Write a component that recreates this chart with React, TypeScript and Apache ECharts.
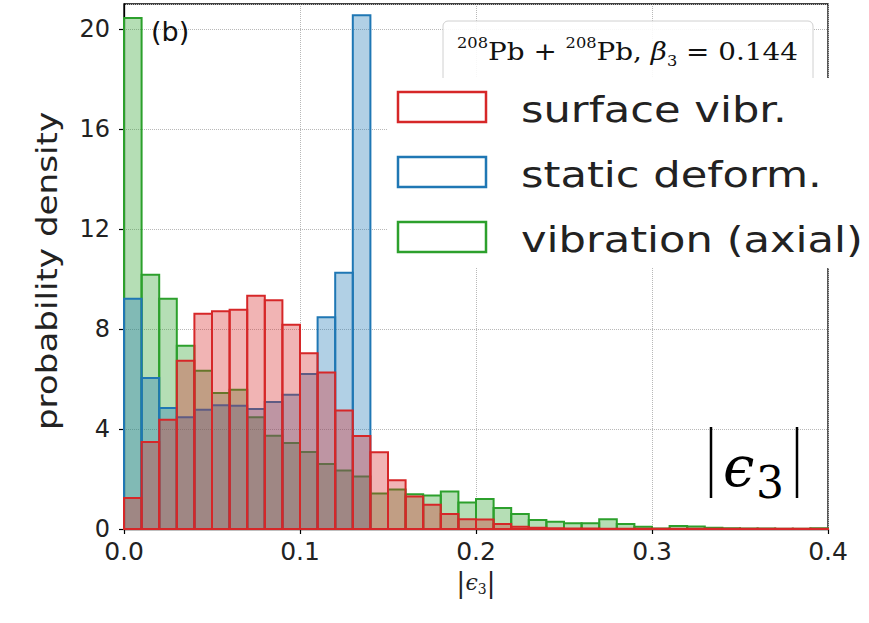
import React, { useEffect, useRef } from "react";
import * as echarts from "echarts";

// ---- data (probability density per bin, bin width 0.01 from 0.0 to 0.4) ----
const BIN_WIDTH = 0.01;
const surfaceVibr = [
  1.24, 3.48, 4.37, 6.73, 8.61, 8.71, 8.77, 9.33, 9.15, 8.17,
  7.03, 6.26, 4.74, 3.72, 3.07, 1.95, 1.3, 0.97, 0.6, 0.39,
  0.38, 0.2, 0.09, 0.05, 0.03, 0.02, 0.02, 0.01, 0.01, 0.01,
  0.01, 0.01, 0.01, 0.01, 0.01, 0.01, 0.01, 0.01, 0.01, 0.01,
];
const staticDeform = [
  9.21, 6.04, 4.84, 4.47, 4.77, 4.95, 4.93, 4.8, 5.08, 5.37,
  6.2, 8.47, 10.25, 20.55, 0, 0, 0, 0, 0, 0,
  0, 0, 0, 0, 0, 0, 0, 0, 0, 0,
  0, 0, 0, 0, 0, 0, 0, 0, 0, 0,
];
const vibrationAxial = [
  20.44, 10.17, 9.21, 7.33, 6.33, 5.44, 5.57, 4.47, 3.73, 3.44,
  3.08, 2.6, 2.34, 2.1, 1.42, 1.58, 1.39, 1.34, 1.5, 1.06,
  1.2, 0.84, 0.6, 0.36, 0.29, 0.23, 0.23, 0.39, 0.2, 0.09,
  0.02, 0.12, 0.1, 0.05, 0.03, 0.02, 0.02, 0.01, 0.01, 0.03,
];
const seriesNames = ["surface vibr.", "static deform.", "vibration (axial)"];
const xTickLabels = ["0.0", "0.1", "0.2", "0.3", "0.4"];
const yAxisTitle = "probability density";

const COLORS = {
  red: { stroke: "#d62728", fill: "rgba(214,39,40,0.35)" },
  blue: { stroke: "#1f77b4", fill: "rgba(31,119,180,0.35)" },
  green: { stroke: "#2ca02c", fill: "rgba(44,160,44,0.35)" },
};

const toBins = (vals: number[]) =>
  vals.map((v, i) => [i * BIN_WIDTH, (i + 1) * BIN_WIDTH, v]);

const histSeries = (name: string, vals: number[], c: { stroke: string; fill: string }) => ({
  type: "custom",
  name,
  data: toBins(vals),
  encode: { x: [0, 1], y: 2 },
  renderItem: (params: any, api: any) => {
    const v = api.value(2);
    if (!(v > 0)) return null;
    const p0 = api.coord([api.value(0), v]);
    const p1 = api.coord([api.value(1), 0]);
    return {
      type: "rect",
      shape: { x: p0[0], y: p0[1], width: p1[0] - p0[0], height: p1[1] - p0[1] },
      style: { fill: c.fill, stroke: c.stroke, lineWidth: 2 },
    };
  },
});

export default function App() {
  const ref = useRef<HTMLDivElement>(null);
  useEffect(() => {
    if (!ref.current) return;
    const chart = echarts.init(ref.current, null, { renderer: "svg" });
    const sans = "DejaVu Sans";
    const serif = "DejaVu Serif";
    const legendRows = [
      { name: seriesNames[0], c: COLORS.red, y: 92 },
      { name: seriesNames[1], c: COLORS.blue, y: 157 },
      { name: seriesNames[2], c: COLORS.green, y: 222 },
    ];
    chart.setOption({
      animation: false,
      backgroundColor: "#fff",
      grid: {
        left: 124, right: 41, top: 4, bottom: 94,
        show: true, borderColor: "#000", borderWidth: 1.3, backgroundColor: "transparent",
      },
      xAxis: {
        type: "value", min: 0, max: 0.4, interval: 0.1,
        name: "{b||}{e|ϵ}{s|3}{b||}",
        nameLocation: "middle", nameGap: 38,
        nameTextStyle: {
          rich: {
            b: { fontFamily: serif, fontSize: 27, color: "#222" },
            e: { fontFamily: serif, fontStyle: "italic", fontSize: 22, color: "#222" },
            s: { fontFamily: serif, fontSize: 14, color: "#222", verticalAlign: "bottom", padding: [12, 0, 0, 0] },
          },
        },
        axisLine: { lineStyle: { color: "#000", width: 1.3 } },
        axisTick: { show: true, inside: false, length: 5, lineStyle: { color: "#000", width: 1.2 } },
        axisLabel: {
          fontFamily: sans, fontSize: 25, color: "#222", margin: 10,
          formatter: (v: number) => xTickLabels[Math.round(v * 10)] ?? "",
        },
        splitLine: { show: true, lineStyle: { type: "dotted", color: "#b8b8b8", width: 1 } },
      },
      yAxis: {
        type: "value", min: 0, max: 21, interval: 4,
        axisLine: { show: true, lineStyle: { color: "#000", width: 1.3 } },
        axisTick: { show: true, inside: false, length: 5, lineStyle: { color: "#000", width: 1.2 } },
        axisLabel: { fontFamily: sans, fontSize: 24, color: "#222", margin: 14, showMaxLabel: false },
        splitLine: { show: true, lineStyle: { type: "dotted", color: "#b8b8b8", width: 1 } },
      },
      series: [
        histSeries(seriesNames[2], vibrationAxial, COLORS.green),
        histSeries(seriesNames[1], staticDeform, COLORS.blue),
        histSeries(seriesNames[0], surfaceVibr, COLORS.red),
      ],
      graphic: [
        {
          type: "text", x: 47, y: 271, z: 100, rotation: Math.PI / 2, scaleX: 1.22,
          style: {
            text: yAxisTitle, fontFamily: sans, fontSize: 28, fill: "#222",
            align: "center", verticalAlign: "middle",
          },
        },
        {
          type: "text", x: 151, y: 31, z: 100,
          style: { text: "(b)", fontFamily: sans, fontSize: 27, fill: "#111", verticalAlign: "middle" },
        },
        {
          type: "rect", z: 90,
          shape: { x: 443, y: 21, width: 370, height: 80, r: 5 },
          style: { fill: "rgba(255,255,255,0.9)", stroke: "#d0d0d0", lineWidth: 1 },
        },
        {
          type: "text", x: 457, y: 52, z: 95, scaleX: 1.16,
          style: {
            text: "{sp|208}{n|Pb + }{sp|208}{n|Pb, }{i|β}{sb|3}{n| = 0.144}",
            verticalAlign: "middle",
            rich: {
              n: { fontFamily: serif, fontSize: 24, fill: "#111", lineHeight: 32 },
              i: { fontFamily: serif, fontStyle: "italic", fontSize: 24, fill: "#111", lineHeight: 32 },
              sp: { fontFamily: serif, fontSize: 14, fill: "#111", verticalAlign: "top", lineHeight: 32 },
              sb: { fontFamily: serif, fontSize: 14, fill: "#111", verticalAlign: "bottom", lineHeight: 32 },
            },
          },
        },
        {
          type: "rect", z: 110,
          shape: { x: 388, y: 78, width: 481, height: 190 },
          style: { fill: "#fff", stroke: "none" },
        },
        ...legendRows.flatMap((r) => [
          {
            type: "rect", z: 120,
            shape: { x: 398, y: r.y, width: 88, height: 30 },
            style: { fill: "#fff", stroke: r.c.stroke, lineWidth: 2.5 },
          },
          {
            type: "text", x: 521, y: r.y + 17, z: 120, scaleX: 1.2,
            style: { text: r.name, fontFamily: sans, fontSize: 36, fill: "#222", verticalAlign: "middle" },
          },
        ]),
        { type: "line", z: 100, shape: { x1: 711, y1: 427, x2: 711, y2: 498 }, style: { stroke: "#000", lineWidth: 2.5 } },
        { type: "line", z: 100, shape: { x1: 797, y1: 427, x2: 797, y2: 498 }, style: { stroke: "#000", lineWidth: 2.5 } },
        {
          type: "text", x: 723, y: 466, z: 100,
          style: { text: "ϵ", fontFamily: serif, fontStyle: "italic", fontSize: 56, fill: "#000", verticalAlign: "middle" },
        },
        {
          type: "text", x: 756, y: 482, z: 100,
          style: { text: "3", fontFamily: serif, fontSize: 44, fill: "#000", verticalAlign: "middle" },
        },
      ],
    });
    return () => chart.dispose();
  }, []);
  return (
    <div
      ref={ref}
      style={{ position: "absolute", left: 0, top: 0, width: 869, height: 623 }}
    />
  );
}
